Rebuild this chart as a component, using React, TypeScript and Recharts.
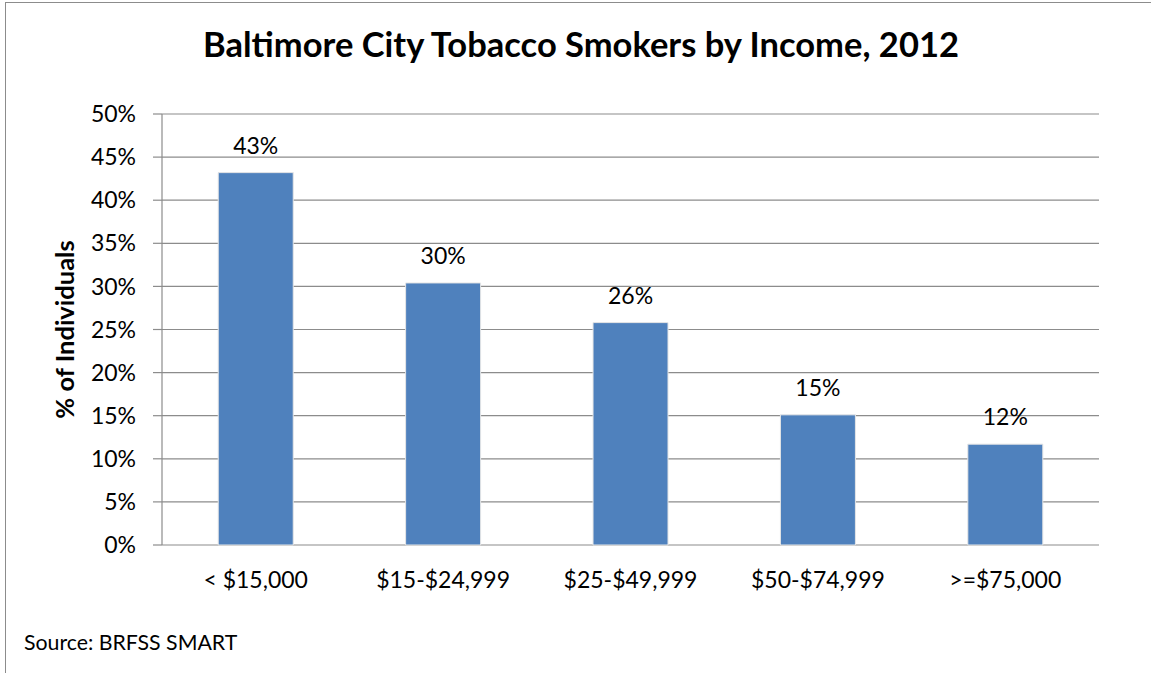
import React from 'react';
import { BarChart, Bar, XAxis, YAxis, CartesianGrid, LabelList, Label } from 'recharts';

const categories = ['< $15,000', '$15-$24,999', '$25-$49,999', '$50-$74,999', '>=$75,000'];
const smokerPct = [43.2, 30.4, 25.8, 15.1, 11.7];
const yTicks = [0, 5, 10, 15, 20, 25, 30, 35, 40, 45, 50];
const edgeTicks = [0, 1, 2, 3, 4, 5];

const title = 'Baltimore City Tobacco Smokers by Income, 2012';
const yTitle = '% of Individuals';
const source = 'Source: BRFSS SMART';

const data = categories.map((c, i) => ({ category: c, value: smokerPct[i] }));

const FONT = 'Lato, "Open Sans", sans-serif';
const GRID = '#8c8c8c';

export default function App() {
  return (
    <div style={{ position: 'absolute', left: 0, top: 0, width: 1151, height: 673, background: '#fff', fontFamily: FONT }}>
      <div style={{ position: 'absolute', left: 5, top: 2, width: 1200, height: 800, borderLeft: `1.5px solid ${GRID}`, borderTop: `1.5px solid ${GRID}` }} />
      <div style={{ position: 'absolute', left: 0, top: 23, width: 1162, textAlign: 'center', fontSize: 34.5, fontWeight: 700, color: '#000' }}>{title}</div>
      <div style={{ position: 'absolute', left: 24, top: 629, fontSize: 21.3, color: '#000' }}>{source}</div>
      <div style={{ position: 'absolute', left: 0, top: 0 }}>
        <BarChart width={1151} height={673} data={data} margin={{ top: 114, right: 52, bottom: 88, left: 0 }} barCategoryGap="30%">
          <CartesianGrid vertical={false} stroke={GRID} strokeWidth={1.2} />
          <XAxis
            xAxisId="edges"
            type="number"
            dataKey={() => 0}
            domain={[0, 5]}
            ticks={edgeTicks}
            height={0}
            tickSize={8}
            axisLine={{ stroke: GRID, strokeWidth: 1.2 }}
            tickLine={{ stroke: GRID, strokeWidth: 1.2 }}
            tick={() => <g />}
          />
          <XAxis
            dataKey="category"
            height={40}
            tickSize={0}
            tickMargin={27}
            axisLine={false}
            tickLine={false}
            tick={{ fill: '#000', fontSize: 23, fontFamily: FONT }}
            interval={0}
          />
          <YAxis
            width={162}
            domain={[0, 50]}
            ticks={yTicks}
            tickSize={9}
            tickMargin={17}
            tickFormatter={(v) => `${v}%`}
            axisLine={{ stroke: GRID, strokeWidth: 1.2 }}
            tickLine={{ stroke: GRID, strokeWidth: 1.2 }}
            tick={{ fill: '#000', fontSize: 23, fontFamily: FONT }}
            interval={0}
          >
            <Label
              value={yTitle}
              angle={-90}
              position="insideLeft"
              offset={65}
              style={{ fontSize: 25.5, fontWeight: 700, fill: '#000', fontFamily: FONT, textAnchor: 'middle' }}
            />
          </YAxis>
          <Bar dataKey="value" fill="#4F81BD" stroke="#e6e6e6" strokeWidth={1} isAnimationActive={false}>
            <LabelList
              dataKey="value"
              position="top"
              offset={19}
              formatter={(v: number) => `${Math.round(v)}%`}
              style={{ fontSize: 23, fill: '#000', fontFamily: FONT }}
            />
          </Bar>
        </BarChart>
      </div>
    </div>
  );
}
